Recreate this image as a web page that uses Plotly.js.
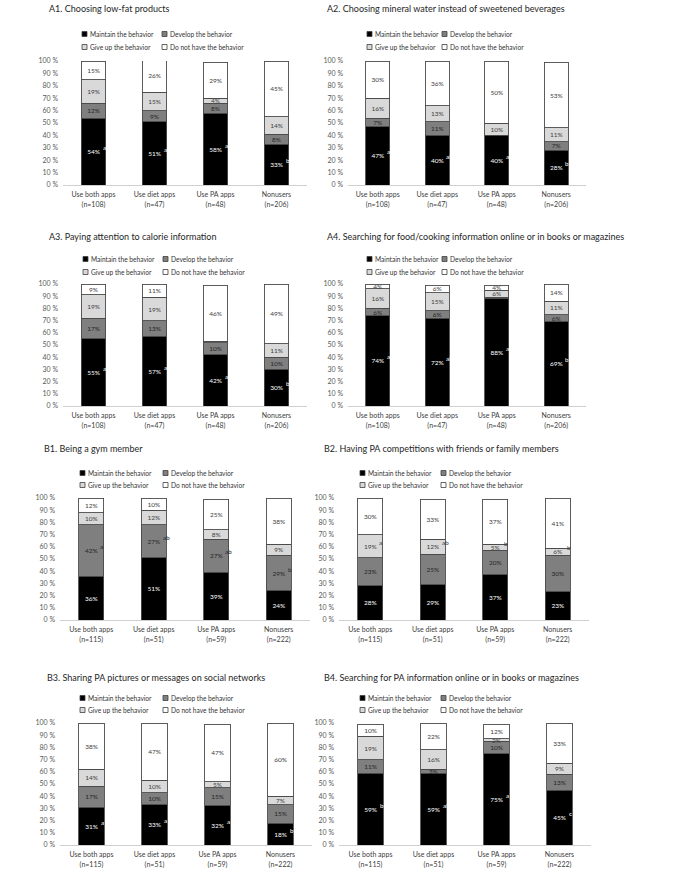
<!DOCTYPE html>
<html>
<head>
<meta charset="utf-8">
<script src="https://cdn.plot.ly/plotly-3.0.1.min.js"></script>
<style>html,body{margin:0;padding:0;background:#fff;}</style>
</head>
<body>
<div id="chart" style="width:678px;height:881px;"></div>
<script>
// ---------- DATA ----------
const panelTitles = [
  'A1. Choosing low-fat products',
  'A2. Choosing mineral water instead of sweetened beverages',
  'A3. Paying attention to calorie information',
  'A4. Searching for food/cooking information online or in books or magazines',
  'B1. Being a gym member',
  'B2. Having PA competitions with friends or family members',
  'B3. Sharing PA pictures or messages on social networks',
  'B4. Searching for PA information online or in books or magazines'
];
const categories = ['Use both apps', 'Use diet apps', 'Use PA apps', 'Nonusers'];
const nDiet = [108, 47, 48, 206];   // A panels
const nPA = [115, 51, 59, 222];     // B panels
const seriesNames = ['Maintain the behavior', 'Develop the behavior', 'Give up the behavior', 'Do not have the behavior'];

// one row per panel (A1..A4, B1..B4), one value per category
const maintain = [
  [54, 51, 58, 33],
  [47, 40, 40, 28],
  [55, 57, 42, 30],
  [74, 72, 88, 69],
  [36, 51, 39, 24],
  [28, 29, 37, 23],
  [31, 33, 32, 18],
  [59, 59, 75, 45]
];
const develop = [
  [12, 9, 8, 8],
  [7, 11, 0, 7],
  [17, 13, 10, 10],
  [6, 6, 1, 6],
  [42, 27, 27, 29],
  [23, 25, 20, 30],
  [17, 10, 15, 15],
  [11, 3, 10, 13]
];
const giveUp = [
  [19, 15, 4, 14],
  [16, 13, 10, 11],
  [19, 19, 1, 11],
  [16, 15, 6, 11],
  [10, 12, 8, 9],
  [19, 12, 5, 6],
  [14, 10, 5, 7],
  [19, 16, 2, 9]
];
const notHave = [
  [15, 26, 29, 45],
  [30, 36, 50, 53],
  [9, 11, 46, 49],
  [4, 6, 4, 14],
  [12, 10, 25, 38],
  [30, 33, 37, 41],
  [38, 47, 47, 60],
  [10, 22, 12, 33]
];
const sigLetters = [
  ['a', 'a', 'a', 'b'],
  ['a', 'ab', 'ab', 'b'],
  ['a', 'a', 'ab', 'b'],
  ['ab', 'ab', 'a', 'b'],
  ['a', 'ab', 'ab', 'b'],
  ['a', 'ab', 'b', 'b'],
  ['a', 'a', 'a', 'b'],
  ['b', 'ab', 'a', 'c']
];
// which series (0 maintain, 1 develop, 2 give up) carries the letters
const sigSeries = [0, 0, 0, 0, 1, 2, 0, 0];
const yTickVals = [0, 10, 20, 30, 40, 50, 60, 70, 80, 90, 100];

// ---------- STYLE / LAYOUT ----------
const W = 678, H = 881;
const FONT = 'Lato, "Liberation Sans", Arial, sans-serif';
const fills = ['#000000', '#7f7f7f', '#d9d9d9', '#ffffff'];
const textColors = ['#ffffff', '#262626', '#404040', '#404040'];
const geo = [
  {x0: 63, x1: 307, yt: 61, yb: 185, tx: 47, ty: 8, lx: [82, 162], ly: [34, 47]},
  {x0: 348, x1: 586, yt: 61, yb: 185, tx: 325, ty: 8, lx: [367, 442], ly: [34, 47]},
  {x0: 63, x1: 307, yt: 284, yb: 406, tx: 47, ty: 236, lx: [83, 163], ly: [259, 272]},
  {x0: 348, x1: 586, yt: 284, yb: 406, tx: 325, ty: 236, lx: [367, 442], ly: [259, 272]},
  {x0: 60, x1: 310, yt: 498, yb: 620, tx: 42, ty: 448, lx: [80, 163], ly: [473, 485]},
  {x0: 339, x1: 589, yt: 498, yb: 620, tx: 322, ty: 448, lx: [360, 441], ly: [473, 485]},
  {x0: 60, x1: 312, yt: 723, yb: 845, tx: 45, ty: 677, lx: [80, 163], ly: [698, 710]},
  {x0: 339, x1: 591, yt: 723, yb: 845, tx: 322, ty: 677, lx: [360, 441], ly: [698, 710]}
];

const allSeries = [maintain, develop, giveUp, notHave];
const traces = [];
const layout = {
  width: W, height: H,
  margin: {l: 0, r: 0, t: 0, b: 0},
  paper_bgcolor: '#ffffff',
  plot_bgcolor: '#ffffff',
  barmode: 'stack',
  bargap: 0.6,
  showlegend: false,
  font: {family: FONT, size: 7, color: '#404040'},
  annotations: [],
  shapes: []
};

for (let p = 0; p < 8; p++) {
  const g = geo[p];
  const sfx = p === 0 ? '' : String(p + 1);
  const ns = p < 4 ? nDiet : nPA;
  const tickText = categories.map((c, i) => c + '<br>(n=' + ns[i] + ')');

  for (let s = 0; s < 4; s++) {
    const vals = allSeries[s][p];
    traces.push({
      type: 'bar',
      name: seriesNames[s],
      x: categories,
      y: vals,
      xaxis: 'x' + sfx,
      yaxis: 'y' + sfx,
      marker: {color: fills[s], line: {color: '#4a4a4a', width: 0.9}},
      text: vals.map(v => (v >= 2 ? v + '%' : '')),
      textposition: 'inside',
      insidetextanchor: 'middle',
      constraintext: 'none',
      textangle: 0,
      textfont: {family: FONT, size: 6.5, color: textColors[s]},
      hoverinfo: 'name+y'
    });
  }

  // significance letters, placed at the labelled segment's centre via data coordinates
  const ss = sigSeries[p];
  categories.forEach((c, i) => {
    let base = 0;
    for (let k = 0; k < ss; k++) base += allSeries[k][p][i];
    const mid = base + allSeries[ss][p][i] / 2;
    layout.annotations.push({
      xref: 'x' + sfx, yref: 'y' + sfx,
      x: c, y: mid,
      xanchor: 'left', yanchor: 'middle',
      xshift: 7, yshift: 4,
      text: sigLetters[p][i],
      showarrow: false,
      font: {family: FONT, size: 6.3, color: textColors[ss]}
    });
  });

  layout['xaxis' + sfx] = {
    domain: [g.x0 / W, g.x1 / W],
    anchor: 'y' + sfx,
    type: 'category',
    tickmode: 'array',
    tickvals: categories,
    ticktext: tickText,
    showline: true,
    linecolor: '#d0d0d0',
    linewidth: 1,
    ticks: '',
    ticklabelstandoff: 3,
    showgrid: false,
    zeroline: false,
    tickfont: {family: FONT, size: 7, color: '#404040'},
    fixedrange: true
  };
  layout['yaxis' + sfx] = {
    domain: [1 - g.yb / H, 1 - g.yt / H],
    anchor: 'x' + sfx,
    range: [0, 100],
    tickmode: 'array',
    tickvals: yTickVals,
    ticktext: yTickVals.map(v => v + ' %'),
    showline: false,
    showgrid: false,
    zeroline: false,
    ticks: '',
    ticklabelstandoff: 4,
    tickfont: {family: FONT, size: 7, color: '#595959'},
    fixedrange: true
  };

  // panel title
  layout.annotations.push({
    xref: 'paper', yref: 'paper',
    x: g.tx / W, y: 1 - g.ty / H,
    xanchor: 'left', yanchor: 'middle',
    text: panelTitles[p],
    showarrow: false,
    font: {family: FONT, size: 9, color: '#262626'}
  });

  // legend (2 x 2)
  for (let s = 0; s < 4; s++) {
    const cx = g.lx[s % 2];
    const cy = g.ly[Math.floor(s / 2)];
    layout.shapes.push({
      type: 'rect', xref: 'paper', yref: 'paper',
      x0: cx / W, x1: (cx + 5) / W,
      y0: 1 - (cy + 2.5) / H, y1: 1 - (cy - 2.5) / H,
      fillcolor: fills[s],
      line: {color: '#404040', width: 0.8}
    });
    layout.annotations.push({
      xref: 'paper', yref: 'paper',
      x: (cx + 6) / W, y: 1 - cy / H,
      xanchor: 'left', yanchor: 'middle',
      text: seriesNames[s],
      showarrow: false,
      font: {family: FONT, size: 6.6, color: '#333333'}
    });
  }
}

Plotly.newPlot('chart', traces, layout, {displayModeBar: false, staticPlot: true});
</script>
</body>
</html>
